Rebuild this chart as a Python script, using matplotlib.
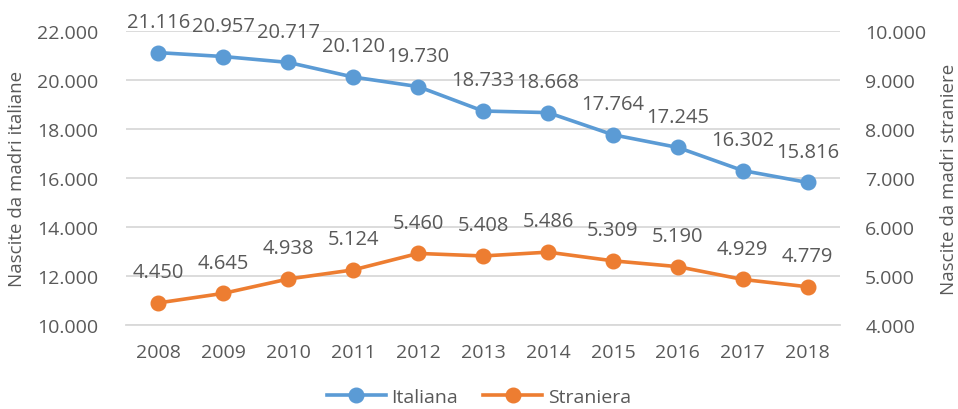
import matplotlib
matplotlib.use("Agg")
import matplotlib.pyplot as plt
from matplotlib.ticker import FuncFormatter

years = ["2008", "2009", "2010", "2011", "2012", "2013", "2014", "2015", "2016", "2017", "2018"]
italiana = [21116, 20957, 20717, 20120, 19730, 18733, 18668, 17764, 17245, 16302, 15816]
straniera = [4450, 4645, 4938, 5124, 5460, 5408, 5486, 5309, 5190, 4929, 4779]

plt.rcParams['font.family'] = ['Open Sans', 'DejaVu Sans']
TXT = '#595959'
BLUE = '#5B9BD5'
ORANGE = '#ED7D31'

def fmt(v):
    return f"{int(round(v)):,}".replace(",", ".")

fig = plt.figure(figsize=(9.58, 4.10), dpi=100)
ax = fig.add_axes([0.1315, 0.205, 0.877 - 0.1315, 0.922 - 0.205])
ax2 = ax.twinx()

x = list(range(len(years)))
ax.set_xlim(-0.5, len(years) - 0.5)
ax.set_ylim(10000, 22000)
ax2.set_ylim(4000, 10000)
ax.set_yticks(range(10000, 22001, 2000))
ax2.set_yticks(range(4000, 10001, 1000))
ax.yaxis.set_major_formatter(FuncFormatter(lambda v, p: fmt(v)))
ax2.yaxis.set_major_formatter(FuncFormatter(lambda v, p: fmt(v)))
ax.set_xticks(x)
ax.set_xticklabels(years)

ax.grid(axis='y', color='#d9d9d9', linewidth=1.3)
ax.set_axisbelow(True)
for a in (ax, ax2):
    for s in a.spines.values():
        s.set_visible(False)
    a.tick_params(length=0, labelsize=14, colors=TXT)
ax.spines['bottom'].set_visible(True)
ax.spines['bottom'].set_color('#d9d9d9')
ax.spines['bottom'].set_linewidth(1.3)
ax.tick_params(axis='y', pad=20)
ax.tick_params(axis='x', pad=13)
ax2.tick_params(axis='y', pad=18)

l1, = ax.plot(x, italiana, color=BLUE, linewidth=2.6, marker='o', markersize=10.5, label='Italiana', zorder=3)
l2, = ax2.plot(x, straniera, color=ORANGE, linewidth=2.6, marker='o', markersize=10.5, label='Straniera', zorder=3)

for xi, v in zip(x, italiana):
    ax.annotate(fmt(v), (xi, v), xytext=(0, 15), textcoords='offset points',
                ha='center', va='bottom', fontsize=14.5, color=TXT)
for xi, v in zip(x, straniera):
    ax2.annotate(fmt(v), (xi, v), xytext=(0, 15), textcoords='offset points',
                 ha='center', va='bottom', fontsize=14.5, color=TXT)

ax.set_ylabel('Nascite da madri italiane', fontsize=13.5, color=TXT, labelpad=8)
ax2.set_ylabel('Nascite da madri straniere', fontsize=13.5, color=TXT, labelpad=10)

fig.legend(handles=[l1, l2], loc='lower center', bbox_to_anchor=(0.5, -0.035), ncol=2,
           frameon=False, fontsize=14, labelcolor=TXT, handlelength=3.0,
           columnspacing=1.3, handletextpad=0.3)

fig.savefig('out.png', dpi=100)
